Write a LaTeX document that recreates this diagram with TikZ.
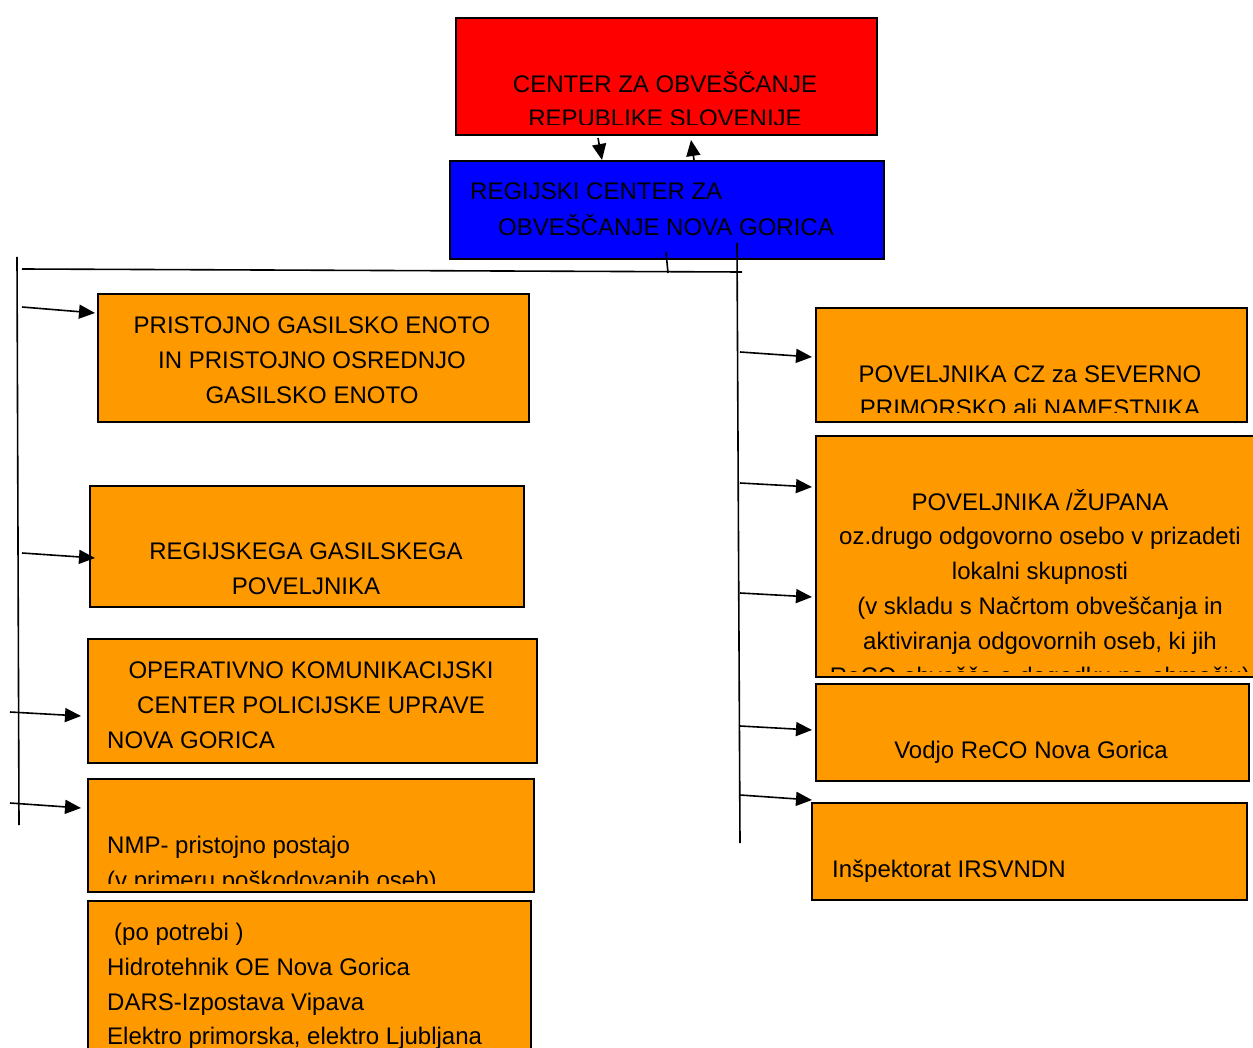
\documentclass[tikz,border=0pt]{standalone}
\usepackage{fontspec}
\setmainfont{Liberation Sans}
\usetikzlibrary{arrows.meta}
\definecolor{boxorange}{HTML}{FF9900}
\definecolor{boxred}{HTML}{FF0000}
\definecolor{boxblue}{HTML}{0000FF}
\begin{document}
\begin{tikzpicture}[x=1pt,y=-1pt,
  box/.style={draw=black,line width=1.6pt,inner sep=0pt,anchor=north west},
  obox/.style={box,fill=boxorange},
  conn/.style={line width=1.6pt},
  arr/.style={conn,-{Triangle[length=16pt,width=14pt]}},
  txt/.style={anchor=base,inner sep=0pt,font=\fontsize{24}{35}\selectfont},
  ltxt/.style={txt,anchor=base west}]
\useasboundingbox (0,0) rectangle (1253,1048);

% top boxes
\node[box,fill=boxred,minimum width=421pt,minimum height=117pt] (crs) at (455,17) {};
\begin{scope}
  \clip (455,17) rectangle (876,125);
  \node[txt] (crs1) at (665,92.5) {CENTER ZA OBVEŠČANJE};
  \node[txt] (crs2) at (665,126.5) {REPUBLIKE SLOVENIJE};
\end{scope}
\node[box,fill=boxblue,minimum width=434pt,minimum height=98pt] (reco) at (449,160) {};
\node[ltxt] (reco1) at (470,199.5) {REGIJSKI CENTER ZA};
\node[ltxt] (reco2) at (498,235.5) {OBVEŠČANJE NOVA GORICA};

% left boxes
\node[obox,minimum width=431pt,minimum height=128pt] (l1) at (97,293) {};
\node[txt] at (312,333.5) {PRISTOJNO GASILSKO ENOTO};
\node[txt] at (312,368.5) {IN PRISTOJNO OSREDNJO};
\node[txt] at (312,403.5) {GASILSKO ENOTO};

\node[obox,minimum width=434pt,minimum height=121pt] (l2) at (89,485) {};
\node[txt] at (306,559.5) {REGIJSKEGA GASILSKEGA};
\node[txt] at (306,594.5) {POVELJNIKA};

\node[obox,minimum width=449pt,minimum height=124pt] (l3) at (87,638) {};
\node[txt] at (311,678.5) {OPERATIVNO KOMUNIKACIJSKI};
\node[txt] at (311,713.5) {CENTER POLICIJSKE UPRAVE};
\node[ltxt] at (107,748.5) {NOVA GORICA};

\node[obox,minimum width=446pt,minimum height=113pt] (l4) at (87,778) {};
\begin{scope}
  \clip (87,778) rectangle (533,883);
  \node[ltxt] at (107,853.5) {NMP- pristojno postajo};
  \node[ltxt] at (107,888.5) {(v primeru poškodovanih oseb)};
\end{scope}

\node[obox,minimum width=443pt,minimum height=160pt] (l5) at (87,900) {};
\node[ltxt] at (114,940.5) {(po potrebi )};
\node[ltxt] at (107,975.5) {Hidrotehnik OE Nova Gorica};
\node[ltxt] at (107,1010.5) {DARS-Izpostava Vipava};
\node[ltxt] at (107,1044.5) {Elektro primorska, elektro Ljubljana};

% right boxes
\node[obox,minimum width=431pt,minimum height=114pt] (r1) at (815,307) {};
\begin{scope}
  \clip (815,307) rectangle (1246,413);
  \node[txt] at (1030,382.5) {POVELJNIKA CZ za SEVERNO};
  \node[txt] at (1030,416.5) {PRIMORSKO ali NAMESTNIKA};
\end{scope}

\node[obox,minimum width=442pt,minimum height=241pt] (r2) at (815,435) {};
\begin{scope}
  \clip (815,435) rectangle (1257,671);
  \node[txt] at (1040,510.5) {POVELJNIKA /ŽUPANA};
  \node[txt] at (1040,544.5) {oz.drugo odgovorno osebo v prizadeti};
  \node[txt] at (1040,579.5) {lokalni skupnosti};
  \node[txt] at (1040,614.5) {(v skladu s Načrtom obveščanja in};
  \node[txt] at (1040,649.5) {aktiviranja odgovornih oseb, ki jih};
  \node[txt] at (1040,684) {ReCO obvešča o dogodku na območju)};
\end{scope}

\node[obox,minimum width=433pt,minimum height=97pt] (r3) at (815,683) {};
\node[txt] at (1031,758.5) {Vodjo ReCO Nova Gorica};

\node[obox,minimum width=435pt,minimum height=97pt] (r4) at (811,802) {};
\node[ltxt] at (832,877.5) {Inšpektorat IRSVNDN};

% connector coordinates
\coordinate (d0) at (598,138);  \coordinate (d1) at (602,160);
\coordinate (u0) at (694,160);  \coordinate (u1) at (691,140);
\coordinate (s0) at (666,252);  \coordinate (s1) at (668,273);
\coordinate (h0) at (22,269);   \coordinate (h1) at (742,272);
\coordinate (lv0) at (17,257);  \coordinate (lv1) at (19,825);
\coordinate (rv0) at (737,243); \coordinate (rv1) at (740,843);

\draw[arr] (d0) -- (d1);
\draw[arr] (u0) -- (u1);
\draw[conn] (s0) -- (s1);
\draw[conn] (h0) -- (h1);
\draw[conn] (lv0) -- (lv1);
\draw[conn] (rv0) -- (rv1);

% left arrows
\coordinate (la1) at (22,307);  \coordinate (lb1) at (95,313);
\coordinate (la2) at (22,553);  \coordinate (lb2) at (95,558);
\coordinate (la3) at (10,712);  \coordinate (lb3) at (81,716);
\coordinate (la4) at (10,803);  \coordinate (lb4) at (81,808);
\foreach \i in {1,2,3,4} \draw[arr] (la\i) -- (lb\i);

% right arrows
\coordinate (ra1) at (740,352); \coordinate (rb1) at (812,357);
\coordinate (ra2) at (740,483); \coordinate (rb2) at (812,487);
\coordinate (ra3) at (740,593); \coordinate (rb3) at (812,597);
\coordinate (ra4) at (740,726); \coordinate (rb4) at (812,730);
\coordinate (ra5) at (740,795); \coordinate (rb5) at (812,800);
\foreach \i in {1,...,5} \draw[arr] (ra\i) -- (rb\i);
\end{tikzpicture}
\end{document}
